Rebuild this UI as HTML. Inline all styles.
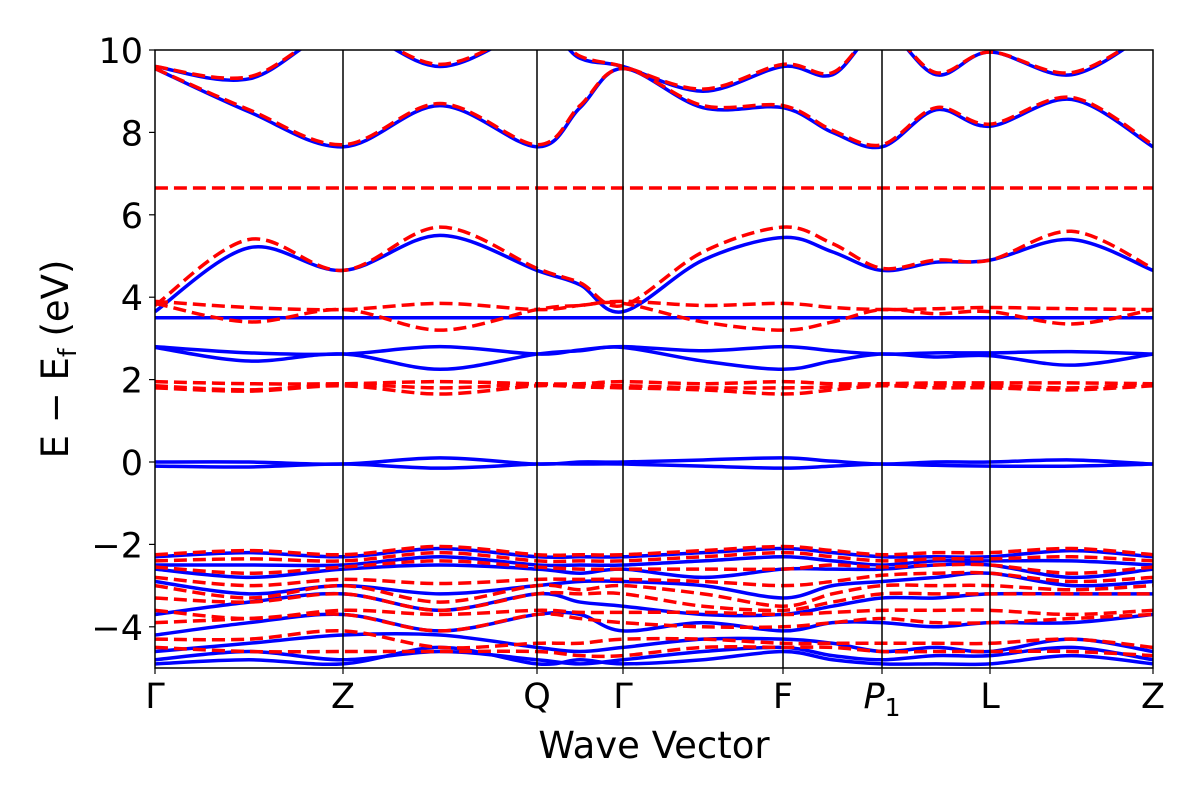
<!DOCTYPE html>
<html><head><meta charset="utf-8"><style>
html,body{margin:0;padding:0;background:#fff;}
svg{display:block;font-family:"DejaVu Sans","Liberation Sans",sans-serif;}
</style></head><body>
<svg id="chart" width="1200" height="800">
<defs><clipPath id="clip"><rect x="155" y="50" width="998" height="618"/></clipPath></defs>
<g id="bands" clip-path="url(#clip)"></g>
<g id="axes"></g>
</svg>
<script>
const tickLabels = ["Γ","Z","Q","Γ","F","P1","L","Z"];
const tickK = [0,1.88,3.82,4.68,6.28,7.27,8.35,9.98];
const yTicks = [-4,-2,0,2,4,6,8,10];
// energies sampled at: high-symmetry points and segment midpoints (15 samples)
const blueBands = [
 [3.5,3.5,3.5,3.5,3.5,3.5,3.5,3.5,3.5,3.5,3.5,3.5,3.5,3.5,3.5],
 [2.8,2.65,2.62,2.8,2.62,2.72,2.8,2.7,2.8,2.7,2.62,2.65,2.65,2.68,2.62],
 [2.78,2.45,2.62,2.25,2.62,2.7,2.78,2.45,2.25,2.45,2.62,2.55,2.58,2.35,2.62],
 [0.0,0.0,-0.05,0.1,-0.05,0.0,0.0,0.05,0.1,0.02,-0.05,0.0,0.0,0.05,-0.05],
 [-0.1,-0.12,-0.05,-0.15,-0.05,-0.05,-0.05,-0.1,-0.15,-0.1,-0.05,-0.08,-0.1,-0.1,-0.05],
 [3.65,5.2,4.65,5.5,4.65,4.3,3.65,4.9,5.45,5.1,4.65,4.85,4.9,5.4,4.65],
 [9.55,8.5,7.65,8.65,7.65,8.6,9.55,8.6,8.6,8.0,7.65,8.55,8.15,8.8,7.65],
 [9.6,9.3,10.5,9.6,10.5,9.8,9.6,9.0,9.6,9.4,10.5,9.4,9.95,9.4,10.5],
 [-2.3,-2.2,-2.3,-2.1,-2.3,-2.3,-2.3,-2.2,-2.1,-2.2,-2.3,-2.3,-2.3,-2.15,-2.3],
 [-2.5,-2.5,-2.5,-2.3,-2.5,-2.5,-2.5,-2.4,-2.3,-2.4,-2.5,-2.4,-2.4,-2.4,-2.5],
 [-2.6,-2.8,-2.6,-2.5,-2.6,-2.7,-2.6,-2.8,-2.6,-2.6,-2.6,-2.5,-2.5,-2.8,-2.6],
 [-2.9,-3.2,-3.0,-3.2,-3.0,-2.9,-2.9,-3.0,-3.3,-3.0,-2.9,-2.8,-2.7,-3.0,-2.9],
 [-3.7,-3.4,-3.2,-3.6,-3.2,-3.4,-3.5,-3.7,-3.7,-3.5,-3.3,-3.3,-3.2,-3.2,-3.2],
 [-4.2,-3.9,-3.7,-4.1,-3.7,-3.7,-4.1,-3.9,-4.1,-3.9,-3.9,-4.0,-3.9,-3.9,-3.7],
 [-4.6,-4.4,-4.2,-4.2,-4.5,-4.6,-4.5,-4.3,-4.3,-4.4,-4.6,-4.5,-4.6,-4.3,-4.6],
 [-4.8,-4.6,-4.8,-4.6,-4.8,-4.9,-4.8,-4.6,-4.5,-4.7,-4.8,-4.7,-4.7,-4.5,-4.8],
 [-4.9,-4.8,-4.9,-4.5,-4.9,-4.8,-4.9,-4.8,-4.6,-4.8,-4.9,-4.9,-4.9,-4.7,-4.9]
];
const redBands = [
 [6.65,6.65,6.65,6.65,6.65,6.65,6.65,6.65,6.65,6.65,6.65,6.65,6.65,6.65,6.65],
 [3.9,3.75,3.7,3.85,3.7,3.8,3.9,3.8,3.85,3.75,3.7,3.72,3.75,3.72,3.7],
 [3.85,3.4,3.7,3.2,3.7,3.8,3.85,3.4,3.2,3.4,3.7,3.6,3.65,3.35,3.7],
 [1.95,1.9,1.9,1.95,1.9,1.9,1.95,1.9,1.95,1.9,1.9,1.92,1.92,1.92,1.9],
 [1.85,1.75,1.88,1.8,1.88,1.85,1.85,1.8,1.8,1.82,1.88,1.85,1.85,1.8,1.88],
 [1.8,1.72,1.85,1.65,1.85,1.82,1.8,1.75,1.65,1.75,1.85,1.8,1.8,1.75,1.85],
 [3.8,5.4,4.65,5.7,4.7,4.35,3.8,5.1,5.7,5.3,4.7,4.9,4.9,5.6,4.7],
 [9.55,8.55,7.7,8.7,7.7,8.65,9.55,8.65,8.65,8.05,7.7,8.6,8.2,8.85,7.7],
 [9.6,9.35,10.5,9.65,10.5,9.85,9.6,9.05,9.65,9.45,10.5,9.45,9.95,9.45,10.5],
 [-2.25,-2.15,-2.25,-2.05,-2.25,-2.25,-2.25,-2.15,-2.05,-2.15,-2.25,-2.2,-2.2,-2.1,-2.25],
 [-2.4,-2.35,-2.4,-2.2,-2.4,-2.4,-2.4,-2.3,-2.2,-2.3,-2.4,-2.35,-2.35,-2.3,-2.4],
 [-2.55,-2.7,-2.55,-2.4,-2.55,-2.6,-2.6,-2.6,-2.6,-2.5,-2.55,-2.5,-2.5,-2.7,-2.55],
 [-2.8,-3.0,-2.85,-2.95,-2.85,-2.85,-2.85,-2.9,-3.0,-2.9,-2.75,-2.7,-2.7,-2.9,-2.8],
 [-3.0,-3.3,-3.0,-3.4,-3.0,-3.1,-3.0,-3.2,-3.5,-3.2,-3.0,-3.0,-3.0,-3.1,-3.0],
 [-3.3,-3.4,-3.2,-3.6,-3.2,-3.2,-3.2,-3.5,-3.6,-3.4,-3.2,-3.2,-3.2,-3.2,-3.2],
 [-3.6,-3.8,-3.6,-3.7,-3.6,-3.65,-3.65,-3.65,-3.7,-3.65,-3.6,-3.6,-3.6,-3.7,-3.6],
 [-3.9,-3.8,-3.7,-4.1,-3.7,-3.8,-3.9,-4.0,-4.0,-3.9,-3.8,-3.9,-3.9,-3.8,-3.7],
 [-4.3,-4.3,-4.1,-4.5,-4.4,-4.4,-4.3,-4.3,-4.4,-4.4,-4.4,-4.4,-4.4,-4.3,-4.5],
 [-4.5,-4.6,-4.6,-4.6,-4.6,-4.7,-4.7,-4.5,-4.5,-4.5,-4.6,-4.6,-4.6,-4.6,-4.7]
];
const NS="http://www.w3.org/2000/svg";
const X0=155,X1=1153,Y0=50,Y1=668,EMIN=-5,EMAX=10;
const xs=k=>X0+(k-tickK[0])/(tickK[tickK.length-1]-tickK[0])*(X1-X0);
const ys=e=>Y1-(e-EMIN)/(EMAX-EMIN)*(Y1-Y0);
const sampleK=[];
for(let i=0;i<tickK.length;i++){sampleK.push(tickK[i]);if(i<tickK.length-1)sampleK.push((tickK[i]+tickK[i+1])/2);}
function el(t,a,p){const e=document.createElementNS(NS,t);for(const k in a)e.setAttribute(k,a[k]);p.appendChild(e);return e;}
function pathFor(vals){
 const P=vals.map((v,i)=>[xs(sampleK[i]),ys(v)]);
 let d="M"+P[0][0]+","+P[0][1];
 for(let i=0;i<P.length-1;i++){
  const p0=P[Math.max(0,i-1)],p1=P[i],p2=P[i+1],p3=P[Math.min(P.length-1,i+2)];
  const c1=[p1[0]+(p2[0]-p0[0])/6,p1[1]+(p2[1]-p0[1])/6];
  const c2=[p2[0]-(p3[0]-p1[0])/6,p2[1]-(p3[1]-p1[1])/6];
  d+=` C${c1[0]},${c1[1]} ${c2[0]},${c2[1]} ${p2[0]},${p2[1]}`;
 }
 return d;
}
const g=document.getElementById("bands"),ax=document.getElementById("axes");
blueBands.forEach((b,i)=>{
 const p=el("path",{d:pathFor(b),fill:"none",stroke:"#0000ff","stroke-width":3.5},g);
 
 
});
redBands.forEach((b,i)=>{
 const p=el("path",{d:pathFor(b),fill:"none",stroke:"#ff0000","stroke-width":3.5,"stroke-dasharray":"13,6"},g);
 
 
});
tickK.forEach((k,i)=>{
 const x=xs(k);
 if(i>0&&i<tickK.length-1){const l=el("line",{x1:x,x2:x,y1:Y0,y2:Y1,stroke:"#000","stroke-width":1.5},ax);
 
 }
 el("line",{x1:x,x2:x,y1:Y1,y2:Y1+6,stroke:"#000","stroke-width":1.2},ax);
 const t=el("text",{x:x,y:708,"font-size":35,"text-anchor":"middle"},ax);
 
 
 if(tickLabels[i]==="P1"){t.innerHTML='<tspan font-style="italic">P</tspan><tspan font-size="25" dy="8">1</tspan>';}
 else t.textContent=tickLabels[i];
});
yTicks.forEach(v=>{
 const y=ys(v);
 el("line",{x1:X0-6,x2:X0,y1:y,y2:y,stroke:"#000","stroke-width":1.2},ax);
 const t=el("text",{x:X0-12,y:y+13,"font-size":35,"text-anchor":"end"},ax);
 
 
 t.textContent=v<0?"−"+Math.abs(v):String(v);
});
const fr=el("rect",{x:X0,y:Y0,width:X1-X0,height:Y1-Y0,fill:"none",stroke:"#000","stroke-width":1.5},ax);


const xl=el("text",{x:654,y:758,"font-size":37,"text-anchor":"middle"},ax);


xl.textContent="Wave Vector";
const yl=el("text",{x:0,y:0,"font-size":37,"text-anchor":"middle",transform:"translate(68,359) rotate(-90)"},ax);


yl.innerHTML='E  −  E<tspan font-size="25" dy="8">f</tspan><tspan dy="-8"> (eV)</tspan>';
</script>
</body></html>
